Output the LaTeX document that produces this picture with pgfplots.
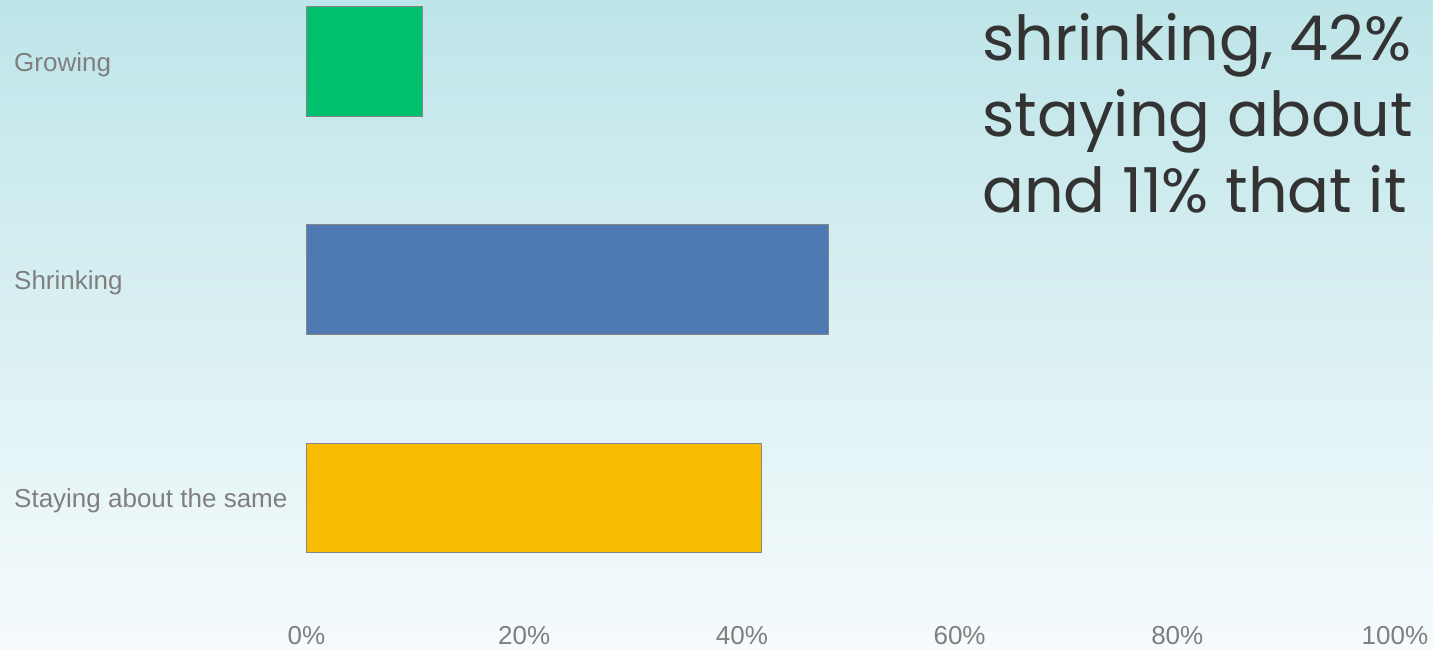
\documentclass[border=0pt]{standalone}
\usepackage{pgfplots}
\pgfplotsset{compat=1.18}
\usepackage{fontspec}
\setmainfont{Liberation Sans}
\newfontfamily\popfont{Poppins}
\definecolor{bgtop}{HTML}{BEE5E9}
\definecolor{bgbot}{HTML}{F6FBFC}
\definecolor{cgreen}{HTML}{00BF6D}
\definecolor{cblue}{HTML}{4E79B3}
\definecolor{cyellow}{HTML}{F8BC00}
\definecolor{labgray}{HTML}{7F7F7F}
\definecolor{bordergray}{HTML}{858585}
\definecolor{txt}{HTML}{333333}
\begin{document}
\begin{tikzpicture}[x=1pt,y=1pt]
\begin{scope}
\clip (0,0) rectangle (1433,650);
\shade[top color=bgtop, bottom color=bgbot] (0,0) rectangle (1433,650);
\begin{axis}[
  at={(306.5pt,43pt)}, anchor=south west,
  scale only axis, width=1088.5pt, height=607pt,
  xmin=0, xmax=100, ymin=-0.5, ymax=2.282,
  axis line style={draw=none},
  major tick length=0pt,
  tick style={draw=none},
  xtick={0,20,40,60,80,100},
  xticklabel={\pgfmathprintnumber{\tick}\%},
  ytick={0,1,2},
  yticklabels={Staying about the same, Shrinking, Growing},
  /pgf/number format/assume math mode=true,
  ticklabel style={font=\fontsize{26}{30}\selectfont, text=labgray},
  xticklabel style={anchor=base, inner sep=0pt, yshift=-38pt},
  yticklabel style={anchor=base west, inner sep=0pt, xshift=-292.5pt, yshift=-9.5pt},
  xbar, bar width=109.5pt, bar shift=0pt,
  clip=false,
]
\addplot[fill=cyellow, draw=bordergray, line width=1pt] coordinates {(41.8,0)};
\addplot[fill=cblue, draw=bordergray, line width=1pt] coordinates {(48.0,1)};
\addplot[fill=cgreen, draw=bordergray, line width=1pt] coordinates {(10.7,2)};
\end{axis}
\begin{scope}[every node/.style={anchor=base west, inner sep=0pt, text=txt, font=\popfont\fontsize{62}{76}\selectfont}]
\node at (982,589) {shrinking, 42\%};
\node at (982,513) {staying about};
\node at (982,437) {and 11\% that it};
\end{scope}
\end{scope}
\pgfresetboundingbox
\useasboundingbox (0,0) rectangle (1433,650);
\end{tikzpicture}
\end{document}
